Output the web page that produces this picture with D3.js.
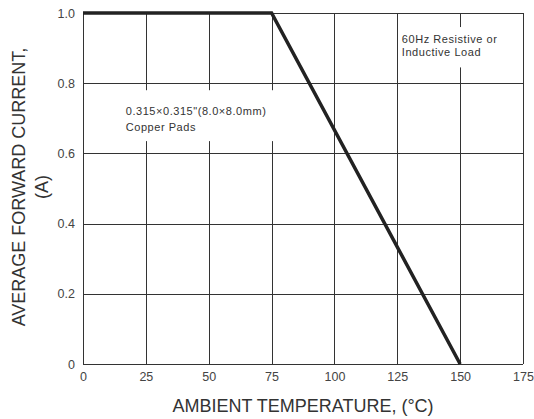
<!DOCTYPE html>
<html>
<head>
<meta charset="utf-8">
<script src="https://cdn.jsdelivr.net/npm/d3@7"></script>
<style>
  body { margin: 0; background: #fff; }
  svg { display: block; font-family: "Liberation Sans", Arial, sans-serif; }
</style>
</head>
<body>
<div id="chart"></div>
<script>
// derating curve
const temperature = [0, 75, 150];
const current = [1.0, 1.0, 0];
const xTicks = [0, 25, 50, 75, 100, 125, 150, 175];
const yTicks = [0, 0.2, 0.4, 0.6, 0.8, 1.0];
const yTickLabels = ['0', '0.2', '0.4', '0.6', '0.8', '1.0'];

const width = 534, height = 419;
const margin = { top: 13, right: 11, bottom: 55, left: 83 };
const innerW = width - margin.left - margin.right;
const innerH = height - margin.top - margin.bottom;

const svg = d3.select('#chart').append('svg')
    .attr('width', width)
    .attr('height', height);

const g = svg.append('g')
    .attr('transform', `translate(${margin.left},${margin.top})`);

const x = d3.scaleLinear().domain([0, 175]).range([0, innerW]);
const y = d3.scaleLinear().domain([0, 1.0]).range([innerH, 0]);

// grid
g.append('g')
    .attr('class', 'xgrid')
    .selectAll('line')
    .data(xTicks)
    .enter().append('line')
    .attr('x1', d => Math.round(x(d)) + 0.5)
    .attr('x2', d => Math.round(x(d)) + 0.5)
    .attr('y1', 0)
    .attr('y2', innerH)
    .style('stroke', '#333')
    .style('stroke-width', '1px');

g.append('g')
    .attr('class', 'ygrid')
    .selectAll('line')
    .data(yTicks)
    .enter().append('line')
    .attr('x1', 0)
    .attr('x2', innerW)
    .attr('y1', d => Math.round(y(d)) + 0.5)
    .attr('y2', d => Math.round(y(d)) + 0.5)
    .style('stroke', '#333')
    .style('stroke-width', '1px');

// annotation boxes (white, hide grid behind text)
g.append('rect')
    .attr('x', x(1)).attr('y', y(0.78))
    .attr('width', x(79) - x(1)).attr('height', y(0.635) - y(0.78))
    .style('fill', '#fff');
g.append('rect')
    .attr('x', x(125.5)).attr('y', y(0.96))
    .attr('width', x(174.5) - x(125.5)).attr('height', y(0.845) - y(0.96))
    .style('fill', '#fff');

const note = g.append('g')
    .style('font-size', '11px')
    .style('letter-spacing', '0.55px')
    .style('fill', '#333');
note.append('text').attr('x', x(17)).attr('y', y(0.71)).text('0.315×0.315"(8.0×8.0mm)');
note.append('text').attr('x', x(17)).attr('y', y(0.663)).text('Copper Pads');
note.append('text').attr('x', x(126.8)).attr('y', y(0.915)).text('60Hz Resistive or');
note.append('text').attr('x', x(126.8)).attr('y', y(0.878)).text(' Inductive Load');

// curve
const line = d3.line()
    .x((d, i) => x(temperature[i]))
    .y(d => y(d));

g.append('path')
    .datum(current)
    .attr('d', line)
    .style('fill', 'none')
    .style('stroke', '#222')
    .style('stroke-width', '3.5px')
    .style('stroke-linejoin', 'miter');

// axes
const xAxis = g.append('g')
    .attr('transform', `translate(0,${innerH})`)
    .call(d3.axisBottom(x).tickValues(xTicks).tickSize(0).tickPadding(8));
const yAxis = g.append('g')
    .call(d3.axisLeft(y).tickValues(yTicks).tickSize(0).tickPadding(8)
        .tickFormat((d, i) => yTickLabels[i]));
[xAxis, yAxis].forEach(a => {
    a.select('.domain').remove();
    a.selectAll('text')
        .style('font-family', '"Liberation Sans", Arial, sans-serif')
        .style('font-size', '12.5px')
        .style('fill', '#444');
});

// axis titles
svg.append('text')
    .attr('x', 303)
    .attr('y', 412)
    .attr('text-anchor', 'middle')
    .style('font-size', '18px')
    .style('fill', '#333')
    .text('AMBIENT TEMPERATURE, (°C)');

const yTitle = svg.append('text')
    .attr('transform', 'translate(25,187) rotate(-90)')
    .attr('text-anchor', 'middle')
    .style('font-size', '18px')
    .style('fill', '#333');
yTitle.append('tspan').attr('x', 0).attr('dy', 0).text('AVERAGE FORWARD CURRENT,');
yTitle.append('tspan').attr('x', 0).attr('dy', 23).text('(A)');
</script>
</body>
</html>
